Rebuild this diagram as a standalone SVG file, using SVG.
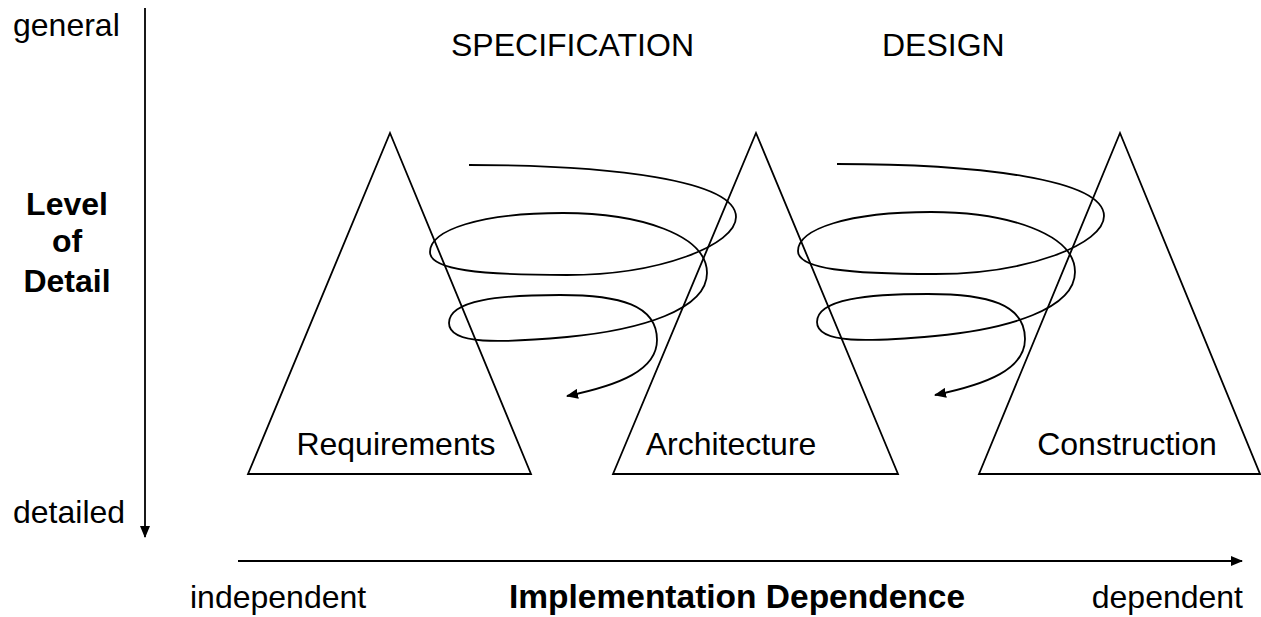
<svg xmlns="http://www.w3.org/2000/svg" width="1261" height="617" viewBox="0 0 1261 617">
<style>
text{font-family:"Liberation Sans",Arial,sans-serif;font-size:32px;fill:#000}
.b{font-weight:bold}
.shape{fill:none;stroke:#000;stroke-width:1.8}
.spiral{fill:none;stroke:#000;stroke-width:1.8}
</style>
<defs>
<marker id="ah" viewBox="0 0 12 10" refX="11" refY="5" markerWidth="12" markerHeight="10" markerUnits="userSpaceOnUse" orient="auto">
<path d="M0,0 L12,5 L0,10 Z" fill="#000"/>
</marker>
<marker id="axh" viewBox="0 0 12 10" refX="11" refY="5" markerWidth="12" markerHeight="10" markerUnits="userSpaceOnUse" orient="auto">
<path d="M0,0 L12,5 L0,10 Z" fill="#000"/>
</marker>
</defs>
<rect width="1261" height="617" fill="#fff"/>

<g id="axes">
<line class="shape" x1="145" y1="8" x2="145" y2="537" marker-end="url(#axh)"/>
<line class="shape" x1="238" y1="561" x2="1242" y2="561" marker-end="url(#axh)"/>
<text x="13" y="36">general</text>
<text x="13" y="523">detailed</text>
<text class="b" x="67" y="215" text-anchor="middle">Level</text>
<text class="b" x="67" y="252" text-anchor="middle">of</text>
<text class="b" x="67" y="292" text-anchor="middle">Detail</text>
<text x="190" y="608">independent</text>
<text class="b" x="737" y="608" text-anchor="middle" style="font-size:33.5px">Implementation Dependence</text>
<text x="1243" y="608" text-anchor="end">dependent</text>
</g>

<g id="phases">
<text x="451" y="56">SPECIFICATION</text>
<text x="882" y="56">DESIGN</text>
</g>

<g id="requirements">
<polygon class="shape" points="390,133 531,474 248,474"/>
<text x="396" y="455" text-anchor="middle">Requirements</text>
</g>
<g id="architecture">
<polygon class="shape" points="756,133 898,474 613,474"/>
<text x="731" y="455" text-anchor="middle">Architecture</text>
</g>
<g id="construction">
<polygon class="shape" points="1120,133 1260,474 979,474"/>
<text x="1127" y="455" text-anchor="middle">Construction</text>
</g>

<g id="connectors">
<path class="spiral" marker-end="url(#ah)" d="M469,165 C610,165 736,180 736,217 C736,245 660,275 567,275 C480,275 430,270 430,252 C430,230 480,213 563,213 C640,213 707,235 707,273 C707,310 640,330 567,337 C500,343 449,345 449,323 C449,300 500,295 560,295 C620,295 657,305 657,340 C657,370 620,385 567,396"/>
<path class="spiral" marker-end="url(#ah)" transform="translate(368,-1)" d="M469,165 C610,165 736,180 736,217 C736,245 660,275 567,275 C480,275 430,270 430,252 C430,230 480,213 563,213 C640,213 707,235 707,273 C707,310 640,330 567,337 C500,343 449,345 449,323 C449,300 500,295 560,295 C620,295 657,305 657,340 C657,370 620,385 567,396"/>
</g>
</svg>
